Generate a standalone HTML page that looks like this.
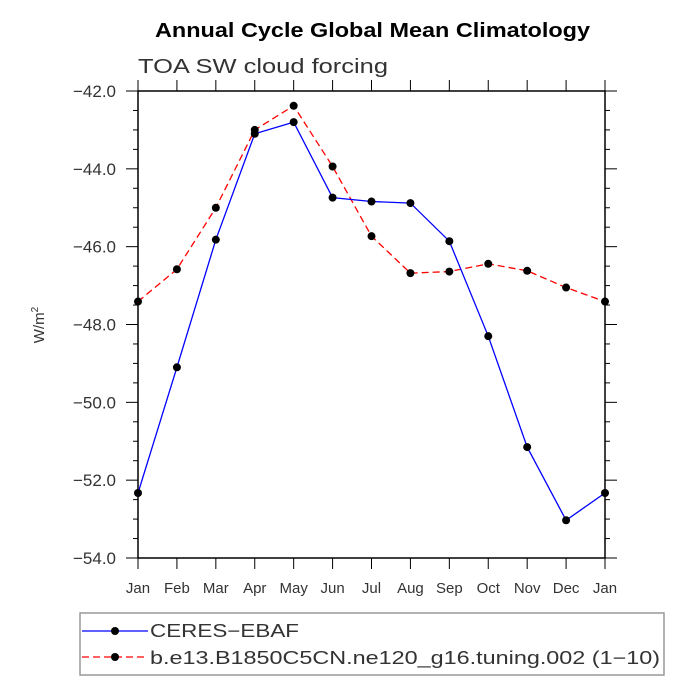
<!DOCTYPE html>
<html><head><meta charset="utf-8"><style>
body{margin:0;background:#fff;}
svg text{font-family:"Liberation Sans",sans-serif;}
</style></head><body>
<svg id="chart" width="694" height="694" xmlns="http://www.w3.org/2000/svg">
<text x="155" y="37" font-size="20" font-weight="bold" textLength="435" lengthAdjust="spacingAndGlyphs">Annual Cycle Global Mean Climatology</text>
<text x="138" y="73" font-size="20" fill="#333" textLength="250" lengthAdjust="spacingAndGlyphs">TOA SW cloud forcing</text>
<text transform="translate(44,325) rotate(-90)" text-anchor="middle" font-size="15" fill="#333">W/m<tspan font-size="10" dy="-6">2</tspan></text>
<g id="axes"></g>
<g id="series"></g>
<g>
<rect x="80" y="613" width="584" height="62" fill="none" stroke="#999" stroke-width="1.5"/>
<line x1="82" y1="631" x2="148" y2="631" stroke="#0000ff" stroke-width="1.3"/>
<circle cx="115" cy="631" r="4" fill="#000"/>
<text x="150" y="637" font-size="18" fill="#333" textLength="149" lengthAdjust="spacingAndGlyphs">CERES−EBAF</text>
<line x1="82" y1="657" x2="148" y2="657" stroke="#ff0000" stroke-width="1.3" stroke-dasharray="7,4"/>
<circle cx="115" cy="657" r="4" fill="#000"/>
<text x="150" y="664" font-size="18" fill="#333" textLength="510" lengthAdjust="spacingAndGlyphs">b.e13.B1850C5CN.ne120_g16.tuning.002 (1−10)</text>
</g>
</svg>
<script>
const months=["Jan","Feb","Mar","Apr","May","Jun","Jul","Aug","Sep","Oct","Nov","Dec","Jan"];
const ceres=[-52.33,-49.1,-45.82,-43.1,-42.8,-44.74,-44.84,-44.88,-45.86,-48.3,-51.15,-53.03,-52.33];
const model=[-47.41,-46.58,-45.0,-43.0,-42.38,-43.94,-45.73,-46.68,-46.64,-46.44,-46.62,-47.05,-47.41];
const yTicks=[-42,-44,-46,-48,-50,-52,-54];
const yTickLabels=["−42.0","−44.0","−46.0","−48.0","−50.0","−52.0","−54.0"];
const L=138,R=605,T=91,B=558,ymax=-42,ymin=-54;
const NS="http://www.w3.org/2000/svg";
const xs=i=>L+(R-L)*i/(months.length-1);
const ys=v=>T+(ymax-v)/(ymax-ymin)*(B-T);
function mk(tag,attrs,parent){const e=document.createElementNS(NS,tag);for(const k in attrs)e.setAttribute(k,attrs[k]);parent.appendChild(e);return e;}
const ax=document.getElementById('axes');
const fr=mk('rect',{x:L,y:T,width:R-L,height:B-T,fill:'none',stroke:'#000','stroke-width':1.5},ax);


months.forEach((m,i)=>{
  const x=xs(i);
  mk('line',{x1:x,y1:B,x2:x,y2:B+11,stroke:'#000','stroke-width':1},ax);
  mk('line',{x1:x,y1:T,x2:x,y2:T-11,stroke:'#000','stroke-width':1},ax);
  const t=mk('text',{x:x,y:B+35,'text-anchor':'middle','font-size':15,fill:'#333'},ax);
  t.textContent=m;
  
  
});
for(let v=ymax;v>=ymin-0.001;v-=0.5){
  const y=ys(v);const major=Math.abs(v-Math.round(v))<0.01&&Math.round(v)%2===0;
  const len=major?12:5;
  mk('line',{x1:L,y1:y,x2:L-len,y2:y,stroke:'#000','stroke-width':1},ax);
  mk('line',{x1:R,y1:y,x2:R+len,y2:y,stroke:'#000','stroke-width':1},ax);
}
yTicks.forEach((v,i)=>{
  const t=mk('text',{x:116,y:ys(v)+6,'text-anchor':'end','font-size':17,fill:'#333'},ax);
  t.textContent=yTickLabels[i];
  
  
});
const sg=document.getElementById('series');
function draw(vals,color,dash,name){
  const p=mk('polyline',{points:vals.map((v,i)=>xs(i)+','+ys(v)).join(' '),fill:'none',stroke:color,'stroke-width':1.3},sg);
  if(dash)p.setAttribute('stroke-dasharray',dash);
  
  
  vals.forEach((v,i)=>{
    const c=mk('circle',{cx:xs(i),cy:ys(v),r:4,fill:'#000'},sg);
    
    
  });
}
draw(model,'#ff0000','7,4','model');
draw(ceres,'#0000ff',null,'ceres');
</script>
</body></html>
